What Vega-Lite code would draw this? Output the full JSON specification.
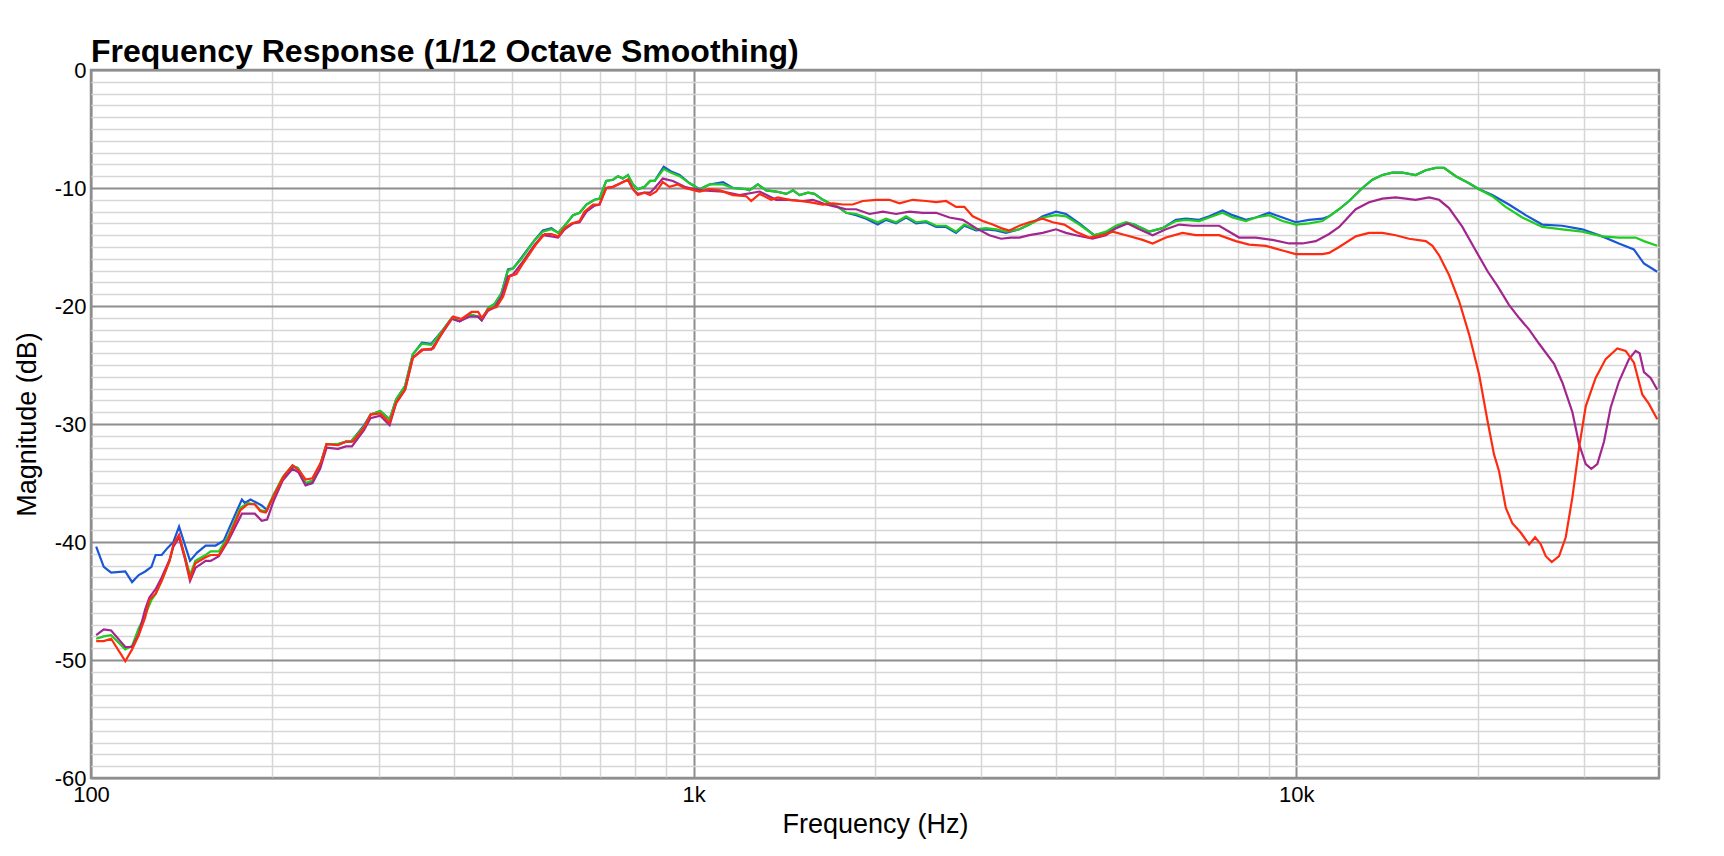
{
  "$schema": "https://vega.github.io/schema/vega-lite/v6.json",
  "description": "Frequency response, 1/12 octave smoothing, four measurements.",
  "width": 1568,
  "height": 708,
  "autosize": {"type": "none"},
  "padding": {"left": 91, "top": 70, "right": 65, "bottom": 78},
  "background": "white",
  "title": {
    "text": "Frequency Response (1/12 Octave Smoothing)",
    "anchor": "start",
    "frame": "group",
    "font": "Liberation Sans",
    "fontSize": 32,
    "fontWeight": "bold",
    "color": "#000000",
    "offset": -10
  },
  "datasets": {
    "fr": [
      {"s":"A","f":102,"db":-40.4},{"s":"A","f":105,"db":-42.1},{"s":"A","f":108,"db":-42.6},{"s":"A","f":114,"db":-42.5},{"s":"A","f":117,"db":-43.4},{"s":"A","f":120,"db":-42.8},{"s":"A","f":123,"db":-42.5},{"s":"A","f":126,"db":-42.1},{"s":"A","f":128,"db":-41.1},{"s":"A","f":131,"db":-41.1},{"s":"A","f":134,"db":-40.5},{"s":"A","f":137,"db":-40.0},{"s":"A","f":140,"db":-38.7},{"s":"A","f":146,"db":-41.6},{"s":"A","f":150,"db":-40.9},{"s":"A","f":155,"db":-40.3},{"s":"A","f":161,"db":-40.3},{"s":"A","f":166,"db":-39.9},{"s":"A","f":172,"db":-38.1},{"s":"A","f":178,"db":-36.4},{"s":"A","f":180,"db":-36.7},{"s":"A","f":184,"db":-36.4},{"s":"A","f":192,"db":-36.9},{"s":"A","f":196,"db":-37.3},{"s":"A","f":201,"db":-36.0},{"s":"A","f":208,"db":-34.6},{"s":"A","f":216,"db":-33.6},{"s":"A","f":220,"db":-33.7},{"s":"A","f":227,"db":-35.1},{"s":"A","f":233,"db":-35.0},{"s":"A","f":239,"db":-33.8},{"s":"A","f":246,"db":-31.7},{"s":"A","f":257,"db":-31.7},{"s":"A","f":265,"db":-31.5},{"s":"A","f":270,"db":-31.5},{"s":"A","f":284,"db":-30.1},{"s":"A","f":291,"db":-29.2},{"s":"A","f":302,"db":-28.9},{"s":"A","f":313,"db":-29.6},{"s":"A","f":321,"db":-27.9},{"s":"A","f":332,"db":-26.8},{"s":"A","f":342,"db":-24.1},{"s":"A","f":354,"db":-23.1},{"s":"A","f":367,"db":-23.2},{"s":"A","f":384,"db":-22.0},{"s":"A","f":397,"db":-21.0},{"s":"A","f":409,"db":-21.3},{"s":"A","f":425,"db":-20.7},{"s":"A","f":439,"db":-20.9},{"s":"A","f":445,"db":-21.2},{"s":"A","f":456,"db":-20.2},{"s":"A","f":468,"db":-19.8},{"s":"A","f":480,"db":-18.9},{"s":"A","f":492,"db":-16.9},{"s":"A","f":502,"db":-16.8},{"s":"A","f":518,"db":-15.9},{"s":"A","f":545,"db":-14.4},{"s":"A","f":562,"db":-13.6},{"s":"A","f":581,"db":-13.4},{"s":"A","f":596,"db":-13.8},{"s":"A","f":611,"db":-13.2},{"s":"A","f":631,"db":-12.3},{"s":"A","f":647,"db":-12.1},{"s":"A","f":664,"db":-11.4},{"s":"A","f":685,"db":-11.0},{"s":"A","f":698,"db":-10.9},{"s":"A","f":716,"db":-9.4},{"s":"A","f":735,"db":-9.3},{"s":"A","f":749,"db":-9.0},{"s":"A","f":763,"db":-9.2},{"s":"A","f":778,"db":-8.9},{"s":"A","f":793,"db":-9.7},{"s":"A","f":808,"db":-10.1},{"s":"A","f":829,"db":-9.9},{"s":"A","f":847,"db":-9.4},{"s":"A","f":862,"db":-9.4},{"s":"A","f":892,"db":-8.2},{"s":"A","f":918,"db":-8.6},{"s":"A","f":948,"db":-8.9},{"s":"A","f":985,"db":-9.6},{"s":"A","f":1023,"db":-10.1},{"s":"A","f":1063,"db":-9.7},{"s":"A","f":1119,"db":-9.5},{"s":"A","f":1162,"db":-10.0},{"s":"A","f":1223,"db":-10.1},{"s":"A","f":1238,"db":-10.2},{"s":"A","f":1278,"db":-9.7},{"s":"A","f":1320,"db":-10.2},{"s":"A","f":1371,"db":-10.3},{"s":"A","f":1425,"db":-10.5},{"s":"A","f":1462,"db":-10.2},{"s":"A","f":1499,"db":-10.6},{"s":"A","f":1548,"db":-10.4},{"s":"A","f":1587,"db":-10.5},{"s":"A","f":1639,"db":-11.0},{"s":"A","f":1681,"db":-11.3},{"s":"A","f":1736,"db":-11.6},{"s":"A","f":1792,"db":-12.1},{"s":"A","f":1861,"db":-12.3},{"s":"A","f":1933,"db":-12.6},{"s":"A","f":2021,"db":-13.1},{"s":"A","f":2087,"db":-12.7},{"s":"A","f":2168,"db":-13.0},{"s":"A","f":2252,"db":-12.5},{"s":"A","f":2340,"db":-13.0},{"s":"A","f":2431,"db":-12.9},{"s":"A","f":2526,"db":-13.3},{"s":"A","f":2624,"db":-13.3},{"s":"A","f":2726,"db":-13.8},{"s":"A","f":2814,"db":-13.2},{"s":"A","f":2942,"db":-13.6},{"s":"A","f":3058,"db":-13.5},{"s":"A","f":3176,"db":-13.6},{"s":"A","f":3300,"db":-13.8},{"s":"A","f":3472,"db":-13.5},{"s":"A","f":3607,"db":-13.1},{"s":"A","f":3796,"db":-12.4},{"s":"A","f":3994,"db":-12.0},{"s":"A","f":4149,"db":-12.2},{"s":"A","f":4366,"db":-13.0},{"s":"A","f":4621,"db":-14.0},{"s":"A","f":4835,"db":-13.8},{"s":"A","f":5023,"db":-13.4},{"s":"A","f":5218,"db":-13.0},{"s":"A","f":5387,"db":-13.1},{"s":"A","f":5705,"db":-13.7},{"s":"A","f":6003,"db":-13.4},{"s":"A","f":6314,"db":-12.7},{"s":"A","f":6560,"db":-12.6},{"s":"A","f":6903,"db":-12.7},{"s":"A","f":7172,"db":-12.4},{"s":"A","f":7546,"db":-11.9},{"s":"A","f":7840,"db":-12.3},{"s":"A","f":8250,"db":-12.7},{"s":"A","f":8571,"db":-12.5},{"s":"A","f":9018,"db":-12.1},{"s":"A","f":9489,"db":-12.5},{"s":"A","f":9984,"db":-12.9},{"s":"A","f":10506,"db":-12.7},{"s":"A","f":11054,"db":-12.6},{"s":"A","f":11340,"db":-12.4},{"s":"A","f":11781,"db":-11.8},{"s":"A","f":12240,"db":-11.1},{"s":"A","f":12879,"db":-10.0},{"s":"A","f":13380,"db":-9.3},{"s":"A","f":13901,"db":-8.9},{"s":"A","f":14445,"db":-8.7},{"s":"A","f":15007,"db":-8.7},{"s":"A","f":15782,"db":-8.9},{"s":"A","f":16407,"db":-8.5},{"s":"A","f":17044,"db":-8.3},{"s":"A","f":17594,"db":-8.3},{"s":"A","f":18396,"db":-9.0},{"s":"A","f":19356,"db":-9.6},{"s":"A","f":20110,"db":-10.1},{"s":"A","f":21154,"db":-10.6},{"s":"A","f":22544,"db":-11.4},{"s":"A","f":24029,"db":-12.3},{"s":"A","f":25603,"db":-13.1},{"s":"A","f":27639,"db":-13.2},{"s":"A","f":29833,"db":-13.5},{"s":"A","f":32199,"db":-14.1},{"s":"A","f":34314,"db":-14.7},{"s":"A","f":36334,"db":-15.2},{"s":"A","f":37758,"db":-16.4},{"s":"A","f":39720,"db":-17.1},

      {"s":"B","f":102,"db":-48.2},{"s":"B","f":105,"db":-48.0},{"s":"B","f":108,"db":-47.9},{"s":"B","f":114,"db":-49.1},{"s":"B","f":117,"db":-48.8},{"s":"B","f":120,"db":-47.3},{"s":"B","f":123,"db":-46.2},{"s":"B","f":126,"db":-44.9},{"s":"B","f":128,"db":-44.4},{"s":"B","f":131,"db":-43.3},{"s":"B","f":135,"db":-41.6},{"s":"B","f":137,"db":-40.3},{"s":"B","f":140,"db":-39.5},{"s":"B","f":143,"db":-41.1},{"s":"B","f":146,"db":-42.8},{"s":"B","f":149,"db":-41.6},{"s":"B","f":155,"db":-41.1},{"s":"B","f":158,"db":-40.8},{"s":"B","f":163,"db":-40.8},{"s":"B","f":169,"db":-39.5},{"s":"B","f":177,"db":-37.1},{"s":"B","f":182,"db":-36.7},{"s":"B","f":187,"db":-36.8},{"s":"B","f":191,"db":-37.3},{"s":"B","f":195,"db":-37.4},{"s":"B","f":201,"db":-36.0},{"s":"B","f":208,"db":-34.5},{"s":"B","f":216,"db":-33.5},{"s":"B","f":221,"db":-33.8},{"s":"B","f":227,"db":-35.0},{"s":"B","f":233,"db":-34.8},{"s":"B","f":240,"db":-33.5},{"s":"B","f":246,"db":-31.7},{"s":"B","f":257,"db":-31.7},{"s":"B","f":265,"db":-31.5},{"s":"B","f":270,"db":-31.5},{"s":"B","f":284,"db":-30.2},{"s":"B","f":291,"db":-29.2},{"s":"B","f":302,"db":-28.9},{"s":"B","f":313,"db":-29.6},{"s":"B","f":321,"db":-27.9},{"s":"B","f":332,"db":-26.8},{"s":"B","f":342,"db":-24.1},{"s":"B","f":354,"db":-23.2},{"s":"B","f":367,"db":-23.3},{"s":"B","f":384,"db":-22.0},{"s":"B","f":397,"db":-21.0},{"s":"B","f":409,"db":-21.3},{"s":"B","f":425,"db":-20.7},{"s":"B","f":439,"db":-20.9},{"s":"B","f":445,"db":-21.2},{"s":"B","f":456,"db":-20.2},{"s":"B","f":468,"db":-19.8},{"s":"B","f":480,"db":-18.9},{"s":"B","f":492,"db":-17.0},{"s":"B","f":502,"db":-16.8},{"s":"B","f":518,"db":-16.0},{"s":"B","f":545,"db":-14.4},{"s":"B","f":562,"db":-13.7},{"s":"B","f":581,"db":-13.5},{"s":"B","f":596,"db":-13.8},{"s":"B","f":611,"db":-13.2},{"s":"B","f":631,"db":-12.3},{"s":"B","f":647,"db":-12.1},{"s":"B","f":664,"db":-11.4},{"s":"B","f":685,"db":-11.0},{"s":"B","f":698,"db":-10.9},{"s":"B","f":716,"db":-9.4},{"s":"B","f":735,"db":-9.3},{"s":"B","f":749,"db":-9.0},{"s":"B","f":763,"db":-9.2},{"s":"B","f":778,"db":-8.9},{"s":"B","f":793,"db":-9.7},{"s":"B","f":808,"db":-10.1},{"s":"B","f":829,"db":-9.9},{"s":"B","f":847,"db":-9.4},{"s":"B","f":862,"db":-9.4},{"s":"B","f":892,"db":-8.4},{"s":"B","f":918,"db":-8.7},{"s":"B","f":948,"db":-9.0},{"s":"B","f":985,"db":-9.6},{"s":"B","f":1023,"db":-10.1},{"s":"B","f":1063,"db":-9.7},{"s":"B","f":1119,"db":-9.7},{"s":"B","f":1162,"db":-10.0},{"s":"B","f":1223,"db":-10.1},{"s":"B","f":1238,"db":-10.2},{"s":"B","f":1278,"db":-9.7},{"s":"B","f":1320,"db":-10.2},{"s":"B","f":1371,"db":-10.3},{"s":"B","f":1425,"db":-10.5},{"s":"B","f":1462,"db":-10.2},{"s":"B","f":1499,"db":-10.6},{"s":"B","f":1548,"db":-10.4},{"s":"B","f":1587,"db":-10.5},{"s":"B","f":1639,"db":-11.0},{"s":"B","f":1681,"db":-11.3},{"s":"B","f":1736,"db":-11.6},{"s":"B","f":1792,"db":-12.1},{"s":"B","f":1861,"db":-12.2},{"s":"B","f":1933,"db":-12.5},{"s":"B","f":2021,"db":-12.9},{"s":"B","f":2087,"db":-12.6},{"s":"B","f":2168,"db":-12.9},{"s":"B","f":2252,"db":-12.4},{"s":"B","f":2340,"db":-12.9},{"s":"B","f":2431,"db":-12.8},{"s":"B","f":2526,"db":-13.2},{"s":"B","f":2624,"db":-13.2},{"s":"B","f":2726,"db":-13.7},{"s":"B","f":2814,"db":-13.1},{"s":"B","f":2942,"db":-13.5},{"s":"B","f":3058,"db":-13.4},{"s":"B","f":3176,"db":-13.5},{"s":"B","f":3300,"db":-13.7},{"s":"B","f":3472,"db":-13.5},{"s":"B","f":3607,"db":-13.1},{"s":"B","f":3796,"db":-12.5},{"s":"B","f":3994,"db":-12.3},{"s":"B","f":4149,"db":-12.4},{"s":"B","f":4366,"db":-13.1},{"s":"B","f":4621,"db":-14.0},{"s":"B","f":4835,"db":-13.7},{"s":"B","f":5023,"db":-13.2},{"s":"B","f":5218,"db":-12.9},{"s":"B","f":5387,"db":-13.1},{"s":"B","f":5705,"db":-13.7},{"s":"B","f":6003,"db":-13.4},{"s":"B","f":6314,"db":-12.8},{"s":"B","f":6560,"db":-12.7},{"s":"B","f":6903,"db":-12.8},{"s":"B","f":7172,"db":-12.5},{"s":"B","f":7546,"db":-12.1},{"s":"B","f":7840,"db":-12.5},{"s":"B","f":8250,"db":-12.8},{"s":"B","f":8571,"db":-12.5},{"s":"B","f":9018,"db":-12.3},{"s":"B","f":9489,"db":-12.8},{"s":"B","f":9984,"db":-13.1},{"s":"B","f":10506,"db":-13.0},{"s":"B","f":11054,"db":-12.8},{"s":"B","f":11340,"db":-12.4},{"s":"B","f":11781,"db":-11.8},{"s":"B","f":12240,"db":-11.1},{"s":"B","f":12879,"db":-10.0},{"s":"B","f":13380,"db":-9.3},{"s":"B","f":13901,"db":-8.9},{"s":"B","f":14445,"db":-8.7},{"s":"B","f":15007,"db":-8.7},{"s":"B","f":15782,"db":-8.9},{"s":"B","f":16407,"db":-8.5},{"s":"B","f":17044,"db":-8.3},{"s":"B","f":17594,"db":-8.3},{"s":"B","f":18396,"db":-9.0},{"s":"B","f":19356,"db":-9.6},{"s":"B","f":20110,"db":-10.1},{"s":"B","f":21154,"db":-10.7},{"s":"B","f":22259,"db":-11.6},{"s":"B","f":23726,"db":-12.5},{"s":"B","f":25603,"db":-13.3},{"s":"B","f":27639,"db":-13.5},{"s":"B","f":29833,"db":-13.7},{"s":"B","f":32199,"db":-14.1},{"s":"B","f":34314,"db":-14.2},{"s":"B","f":36567,"db":-14.2},{"s":"B","f":37758,"db":-14.5},{"s":"B","f":39720,"db":-14.9},

      {"s":"C","f":102,"db":-47.9},{"s":"C","f":105,"db":-47.4},{"s":"C","f":108,"db":-47.5},{"s":"C","f":114,"db":-48.9},{"s":"C","f":117,"db":-48.9},{"s":"C","f":120,"db":-47.8},{"s":"C","f":123,"db":-45.7},{"s":"C","f":125,"db":-44.7},{"s":"C","f":128,"db":-44.0},{"s":"C","f":131,"db":-43.0},{"s":"C","f":135,"db":-41.5},{"s":"C","f":137,"db":-40.4},{"s":"C","f":140,"db":-39.6},{"s":"C","f":143,"db":-41.3},{"s":"C","f":146,"db":-43.3},{"s":"C","f":149,"db":-42.2},{"s":"C","f":155,"db":-41.6},{"s":"C","f":158,"db":-41.6},{"s":"C","f":163,"db":-41.2},{"s":"C","f":169,"db":-39.9},{"s":"C","f":178,"db":-37.6},{"s":"C","f":182,"db":-37.6},{"s":"C","f":187,"db":-37.6},{"s":"C","f":192,"db":-38.2},{"s":"C","f":196,"db":-38.1},{"s":"C","f":201,"db":-36.5},{"s":"C","f":208,"db":-34.8},{"s":"C","f":216,"db":-33.8},{"s":"C","f":221,"db":-34.1},{"s":"C","f":227,"db":-35.2},{"s":"C","f":233,"db":-35.0},{"s":"C","f":240,"db":-33.8},{"s":"C","f":246,"db":-32.0},{"s":"C","f":257,"db":-32.1},{"s":"C","f":265,"db":-31.9},{"s":"C","f":271,"db":-31.9},{"s":"C","f":284,"db":-30.5},{"s":"C","f":291,"db":-29.5},{"s":"C","f":302,"db":-29.3},{"s":"C","f":313,"db":-30.1},{"s":"C","f":321,"db":-28.2},{"s":"C","f":332,"db":-27.1},{"s":"C","f":342,"db":-24.4},{"s":"C","f":354,"db":-23.7},{"s":"C","f":367,"db":-23.7},{"s":"C","f":384,"db":-22.2},{"s":"C","f":397,"db":-21.1},{"s":"C","f":409,"db":-21.3},{"s":"C","f":425,"db":-20.9},{"s":"C","f":439,"db":-20.9},{"s":"C","f":445,"db":-21.2},{"s":"C","f":456,"db":-20.4},{"s":"C","f":468,"db":-20.1},{"s":"C","f":480,"db":-19.2},{"s":"C","f":492,"db":-17.5},{"s":"C","f":502,"db":-17.3},{"s":"C","f":518,"db":-16.4},{"s":"C","f":545,"db":-14.8},{"s":"C","f":562,"db":-14.0},{"s":"C","f":581,"db":-14.1},{"s":"C","f":596,"db":-14.2},{"s":"C","f":611,"db":-13.5},{"s":"C","f":631,"db":-13.0},{"s":"C","f":647,"db":-12.9},{"s":"C","f":664,"db":-12.0},{"s":"C","f":685,"db":-11.5},{"s":"C","f":698,"db":-11.4},{"s":"C","f":716,"db":-10.0},{"s":"C","f":735,"db":-9.9},{"s":"C","f":749,"db":-9.7},{"s":"C","f":763,"db":-9.5},{"s":"C","f":778,"db":-9.3},{"s":"C","f":793,"db":-10.1},{"s":"C","f":808,"db":-10.5},{"s":"C","f":829,"db":-10.4},{"s":"C","f":847,"db":-10.4},{"s":"C","f":862,"db":-10.0},{"s":"C","f":889,"db":-9.2},{"s":"C","f":924,"db":-9.4},{"s":"C","f":966,"db":-9.9},{"s":"C","f":985,"db":-10.0},{"s":"C","f":1036,"db":-10.2},{"s":"C","f":1119,"db":-10.3},{"s":"C","f":1192,"db":-10.6},{"s":"C","f":1287,"db":-10.3},{"s":"C","f":1371,"db":-11.0},{"s":"C","f":1443,"db":-11.0},{"s":"C","f":1519,"db":-11.1},{"s":"C","f":1577,"db":-11.0},{"s":"C","f":1660,"db":-11.4},{"s":"C","f":1725,"db":-11.6},{"s":"C","f":1792,"db":-11.8},{"s":"C","f":1861,"db":-11.8},{"s":"C","f":1958,"db":-12.2},{"s":"C","f":2061,"db":-12.0},{"s":"C","f":2168,"db":-12.2},{"s":"C","f":2281,"db":-12.0},{"s":"C","f":2400,"db":-12.1},{"s":"C","f":2526,"db":-12.1},{"s":"C","f":2658,"db":-12.5},{"s":"C","f":2797,"db":-12.7},{"s":"C","f":2942,"db":-13.4},{"s":"C","f":3096,"db":-14.0},{"s":"C","f":3238,"db":-14.3},{"s":"C","f":3363,"db":-14.2},{"s":"C","f":3473,"db":-14.2},{"s":"C","f":3607,"db":-14.0},{"s":"C","f":3796,"db":-13.8},{"s":"C","f":3994,"db":-13.5},{"s":"C","f":4149,"db":-13.8},{"s":"C","f":4311,"db":-14.0},{"s":"C","f":4592,"db":-14.3},{"s":"C","f":4835,"db":-14.0},{"s":"C","f":5023,"db":-13.4},{"s":"C","f":5251,"db":-13.0},{"s":"C","f":5491,"db":-13.5},{"s":"C","f":5778,"db":-14.0},{"s":"C","f":6079,"db":-13.5},{"s":"C","f":6395,"db":-13.1},{"s":"C","f":6729,"db":-13.2},{"s":"C","f":7172,"db":-13.2},{"s":"C","f":7450,"db":-13.2},{"s":"C","f":8042,"db":-14.2},{"s":"C","f":8571,"db":-14.2},{"s":"C","f":9134,"db":-14.4},{"s":"C","f":9734,"db":-14.7},{"s":"C","f":10242,"db":-14.7},{"s":"C","f":10777,"db":-14.5},{"s":"C","f":11340,"db":-13.9},{"s":"C","f":11784,"db":-13.3},{"s":"C","f":12240,"db":-12.4},{"s":"C","f":12556,"db":-11.8},{"s":"C","f":13210,"db":-11.2},{"s":"C","f":13901,"db":-10.9},{"s":"C","f":14626,"db":-10.8},{"s":"C","f":15782,"db":-11.0},{"s":"C","f":16617,"db":-10.8},{"s":"C","f":17263,"db":-11.0},{"s":"C","f":17931,"db":-11.7},{"s":"C","f":18870,"db":-13.3},{"s":"C","f":19856,"db":-15.3},{"s":"C","f":20800,"db":-17.1},{"s":"C","f":21573,"db":-18.3},{"s":"C","f":22547,"db":-19.9},{"s":"C","f":23426,"db":-21.0},{"s":"C","f":24353,"db":-22.0},{"s":"C","f":25301,"db":-23.2},{"s":"C","f":26788,"db":-24.9},{"s":"C","f":27656,"db":-26.5},{"s":"C","f":28733,"db":-29.0},{"s":"C","f":29474,"db":-31.7},{"s":"C","f":30233,"db":-33.4},{"s":"C","f":30885,"db":-33.8},{"s":"C","f":31601,"db":-33.4},{"s":"C","f":32416,"db":-31.5},{"s":"C","f":33253,"db":-28.6},{"s":"C","f":34327,"db":-26.4},{"s":"C","f":35665,"db":-24.5},{"s":"C","f":36581,"db":-23.8},{"s":"C","f":37146,"db":-24.0},{"s":"C","f":37764,"db":-25.6},{"s":"C","f":38741,"db":-26.1},{"s":"C","f":39740,"db":-27.1},

      {"s":"D","f":102,"db":-48.4},{"s":"D","f":105,"db":-48.4},{"s":"D","f":108,"db":-48.2},{"s":"D","f":114,"db":-50.1},{"s":"D","f":117,"db":-49.1},{"s":"D","f":120,"db":-47.9},{"s":"D","f":123,"db":-46.4},{"s":"D","f":125,"db":-44.9},{"s":"D","f":128,"db":-44.4},{"s":"D","f":131,"db":-43.3},{"s":"D","f":135,"db":-41.6},{"s":"D","f":137,"db":-40.2},{"s":"D","f":140,"db":-39.4},{"s":"D","f":143,"db":-41.2},{"s":"D","f":146,"db":-43.1},{"s":"D","f":149,"db":-41.8},{"s":"D","f":155,"db":-41.3},{"s":"D","f":158,"db":-41.1},{"s":"D","f":163,"db":-41.1},{"s":"D","f":169,"db":-39.7},{"s":"D","f":177,"db":-37.3},{"s":"D","f":182,"db":-36.8},{"s":"D","f":187,"db":-36.8},{"s":"D","f":191,"db":-37.4},{"s":"D","f":195,"db":-37.5},{"s":"D","f":201,"db":-36.1},{"s":"D","f":209,"db":-34.4},{"s":"D","f":216,"db":-33.5},{"s":"D","f":222,"db":-34.0},{"s":"D","f":227,"db":-34.7},{"s":"D","f":233,"db":-34.6},{"s":"D","f":241,"db":-33.2},{"s":"D","f":246,"db":-31.7},{"s":"D","f":257,"db":-31.8},{"s":"D","f":265,"db":-31.5},{"s":"D","f":272,"db":-31.5},{"s":"D","f":284,"db":-30.3},{"s":"D","f":291,"db":-29.2},{"s":"D","f":302,"db":-29.1},{"s":"D","f":313,"db":-29.9},{"s":"D","f":321,"db":-28.2},{"s":"D","f":332,"db":-27.1},{"s":"D","f":342,"db":-24.4},{"s":"D","f":356,"db":-23.7},{"s":"D","f":370,"db":-23.6},{"s":"D","f":384,"db":-22.1},{"s":"D","f":399,"db":-20.9},{"s":"D","f":412,"db":-21.1},{"s":"D","f":428,"db":-20.5},{"s":"D","f":439,"db":-20.5},{"s":"D","f":445,"db":-21.0},{"s":"D","f":456,"db":-20.3},{"s":"D","f":471,"db":-20.1},{"s":"D","f":483,"db":-19.2},{"s":"D","f":495,"db":-17.5},{"s":"D","f":508,"db":-17.3},{"s":"D","f":521,"db":-16.4},{"s":"D","f":549,"db":-14.7},{"s":"D","f":566,"db":-13.9},{"s":"D","f":581,"db":-13.9},{"s":"D","f":596,"db":-14.1},{"s":"D","f":611,"db":-13.4},{"s":"D","f":627,"db":-13.0},{"s":"D","f":647,"db":-12.8},{"s":"D","f":659,"db":-12.0},{"s":"D","f":681,"db":-11.4},{"s":"D","f":698,"db":-11.4},{"s":"D","f":716,"db":-10.0},{"s":"D","f":735,"db":-9.9},{"s":"D","f":749,"db":-9.7},{"s":"D","f":778,"db":-9.3},{"s":"D","f":793,"db":-10.1},{"s":"D","f":808,"db":-10.6},{"s":"D","f":829,"db":-10.4},{"s":"D","f":847,"db":-10.6},{"s":"D","f":867,"db":-10.3},{"s":"D","f":889,"db":-9.5},{"s":"D","f":912,"db":-9.9},{"s":"D","f":942,"db":-9.7},{"s":"D","f":966,"db":-10.0},{"s":"D","f":985,"db":-10.1},{"s":"D","f":1023,"db":-10.3},{"s":"D","f":1063,"db":-10.1},{"s":"D","f":1105,"db":-10.2},{"s":"D","f":1162,"db":-10.6},{"s":"D","f":1223,"db":-10.7},{"s":"D","f":1246,"db":-11.1},{"s":"D","f":1287,"db":-10.5},{"s":"D","f":1345,"db":-11.0},{"s":"D","f":1379,"db":-10.8},{"s":"D","f":1443,"db":-11.0},{"s":"D","f":1499,"db":-11.1},{"s":"D","f":1557,"db":-11.2},{"s":"D","f":1639,"db":-11.4},{"s":"D","f":1703,"db":-11.3},{"s":"D","f":1769,"db":-11.4},{"s":"D","f":1837,"db":-11.4},{"s":"D","f":1909,"db":-11.1},{"s":"D","f":2009,"db":-11.0},{"s":"D","f":2113,"db":-11.0},{"s":"D","f":2196,"db":-11.3},{"s":"D","f":2310,"db":-11.0},{"s":"D","f":2431,"db":-11.1},{"s":"D","f":2526,"db":-11.2},{"s":"D","f":2624,"db":-11.1},{"s":"D","f":2726,"db":-11.6},{"s":"D","f":2814,"db":-11.6},{"s":"D","f":2905,"db":-12.4},{"s":"D","f":3018,"db":-12.8},{"s":"D","f":3136,"db":-13.1},{"s":"D","f":3238,"db":-13.4},{"s":"D","f":3342,"db":-13.6},{"s":"D","f":3472,"db":-13.2},{"s":"D","f":3607,"db":-12.9},{"s":"D","f":3796,"db":-12.6},{"s":"D","f":3943,"db":-12.9},{"s":"D","f":4123,"db":-13.1},{"s":"D","f":4311,"db":-13.7},{"s":"D","f":4534,"db":-14.2},{"s":"D","f":4771,"db":-14.0},{"s":"D","f":4960,"db":-13.7},{"s":"D","f":5218,"db":-14.0},{"s":"D","f":5561,"db":-14.4},{"s":"D","f":5778,"db":-14.7},{"s":"D","f":6079,"db":-14.2},{"s":"D","f":6477,"db":-13.8},{"s":"D","f":6815,"db":-14.0},{"s":"D","f":7172,"db":-14.0},{"s":"D","f":7450,"db":-14.0},{"s":"D","f":7941,"db":-14.5},{"s":"D","f":8355,"db":-14.8},{"s":"D","f":8904,"db":-14.9},{"s":"D","f":9489,"db":-15.3},{"s":"D","f":9984,"db":-15.6},{"s":"D","f":10506,"db":-15.6},{"s":"D","f":11054,"db":-15.6},{"s":"D","f":11340,"db":-15.5},{"s":"D","f":11784,"db":-15.0},{"s":"D","f":12556,"db":-14.1},{"s":"D","f":13210,"db":-13.8},{"s":"D","f":13901,"db":-13.8},{"s":"D","f":14626,"db":-14.0},{"s":"D","f":15384,"db":-14.3},{"s":"D","f":16407,"db":-14.5},{"s":"D","f":16829,"db":-14.9},{"s":"D","f":17263,"db":-15.7},{"s":"D","f":17940,"db":-17.4},{"s":"D","f":18639,"db":-19.6},{"s":"D","f":19361,"db":-22.4},{"s":"D","f":20115,"db":-25.8},{"s":"D","f":20767,"db":-29.7},{"s":"D","f":21300,"db":-32.6},{"s":"D","f":21711,"db":-34.0},{"s":"D","f":22271,"db":-37.1},{"s":"D","f":22836,"db":-38.4},{"s":"D","f":23575,"db":-39.2},{"s":"D","f":24353,"db":-40.2},{"s":"D","f":24918,"db":-39.6},{"s":"D","f":25462,"db":-40.2},{"s":"D","f":25950,"db":-41.2},{"s":"D","f":26550,"db":-41.7},{"s":"D","f":27305,"db":-41.2},{"s":"D","f":28010,"db":-39.6},{"s":"D","f":28733,"db":-36.2},{"s":"D","f":29474,"db":-32.0},{"s":"D","f":30233,"db":-28.5},{"s":"D","f":31400,"db":-26.1},{"s":"D","f":32623,"db":-24.5},{"s":"D","f":34109,"db":-23.6},{"s":"D","f":35218,"db":-23.8},{"s":"D","f":36350,"db":-24.8},{"s":"D","f":37525,"db":-27.5},{"s":"D","f":38492,"db":-28.3},{"s":"D","f":39740,"db":-29.6}
    ]
  },
  "data": {"name": "fr"},
  "mark": {"type": "line", "strokeWidth": 2.2, "clip": true},
  "encoding": {
    "x": {
      "field": "f",
      "type": "quantitative",
      "scale": {"type": "log", "domain": [100, 40000], "nice": false},
      "axis": {
        "title": "Frequency (Hz)",
        "values": [100, 200, 300, 400, 500, 600, 700, 800, 900, 1000, 2000, 3000, 4000, 5000, 6000, 7000, 8000, 9000, 10000, 20000, 30000],
        "labelExpr": "datum.value == 100 ? '100' : datum.value == 1000 ? '1k' : datum.value == 10000 ? '10k' : ''",
        "labelOverlap": false,
        "labelFlush": false,
        "labelPadding": 6,
        "titlePadding": 6,
        "gridColor": {"condition": {"test": "datum.value == 100 || datum.value == 1000 || datum.value == 10000", "value": "#8e8e8e"}, "value": "#d6d6d6"},
        "gridWidth": {"condition": {"test": "datum.value == 100 || datum.value == 1000 || datum.value == 10000", "value": 2}, "value": 1.5}
      }
    },
    "y": {
      "field": "db",
      "type": "quantitative",
      "scale": {"domain": [-60, 0], "nice": false, "zero": false},
      "axis": {
        "title": "Magnitude (dB)",
        "values": [-60, -59, -58, -57, -56, -55, -54, -53, -52, -51, -50, -49, -48, -47, -46, -45, -44, -43, -42, -41, -40, -39, -38, -37, -36, -35, -34, -33, -32, -31, -30, -29, -28, -27, -26, -25, -24, -23, -22, -21, -20, -19, -18, -17, -16, -15, -14, -13, -12, -11, -10, -9, -8, -7, -6, -5, -4, -3, -2, -1, 0],
        "labelExpr": "datum.value % 10 == 0 ? '' + datum.value : ''",
        "labelOverlap": false,
        "labelFlush": false,
        "labelPadding": 5,
        "titlePadding": 13,
        "gridColor": {"condition": {"test": "datum.value % 10 == 0", "value": "#8e8e8e"}, "value": "#d6d6d6"},
        "gridWidth": {"condition": {"test": "datum.value % 10 == 0", "value": 2}, "value": 1.5}
      }
    },
    "color": {
      "field": "s",
      "type": "nominal",
      "scale": {"domain": ["A", "B", "C", "D"], "range": ["#1b56d8", "#1fcc1f", "#a3268f", "#ff2b10"]},
      "legend": null
    }
  },
  "config": {
    "view": {"stroke": "#8e8e8e", "strokeWidth": 2.5},
    "axis": {
      "domain": false,
      "ticks": false,
      "grid": true,
      "gridOpacity": 1,
      "labelFont": "Liberation Sans",
      "labelFontSize": 22,
      "labelColor": "#000000",
      "titleFont": "Liberation Sans",
      "titleFontSize": 27,
      "titleFontWeight": "normal",
      "titleColor": "#000000"
    }
  }
}
